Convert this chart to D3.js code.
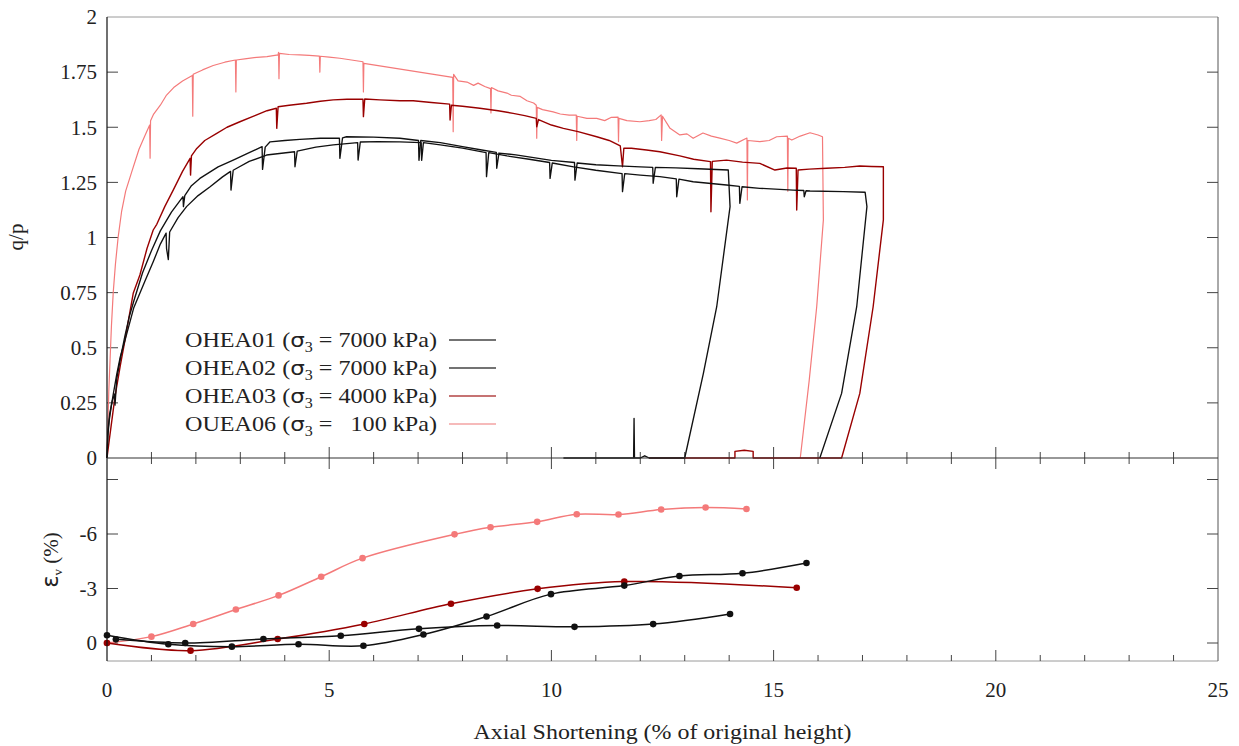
<!DOCTYPE html>
<html>
<head>
<meta charset="utf-8">
<script src="https://cdn.jsdelivr.net/npm/d3@7"></script>
<style>
  html, body { margin: 0; padding: 0; background: #fff; }
  svg { display: block; }
  text { font-family: "Liberation Serif", "DejaVu Serif", serif; fill: #222; }
</style>
</head>
<body>
<svg id="chart" width="1239" height="746"></svg>
<script>
// ---- axis ticks ----
const xTicks = [0, 5, 10, 15, 20, 25];
const qpTicks = [0, 0.25, 0.5, 0.75, 1, 1.25, 1.5, 1.75, 2];
const qpTickLabels = ["0", "0.25", "0.5", "0.75", "1", "1.25", "1.5", "1.75", "2"];
const evTicks = [0, -3, -6, -9];
const evTickLabels = ["0", "-3", "-6", ""];

// ---- series names ----
const seriesNames = ["OHEA01", "OHEA02", "OHEA03", "OUEA06"];
const seriesSigma = ["7000", "7000", "4000", "100"];

// ---- q/p vs axial shortening (%) ----
const ohea01QP = [
  [0,0],[0.02,0.12],[0.06,0.2],[0.12,0.26],[0.17,0.29],[0.18,0.24],[0.2,0.3],[0.22,0.36],[0.3,0.45],
  [0.4,0.55],[0.5,0.64],[0.6,0.71],[0.8,0.84],[1.0,0.94],[1.2,1.03],[1.45,1.115],[1.71,1.185],
  [1.72,1.14],[1.75,1.19],[1.9,1.235],[2.09,1.268],[2.5,1.32],[2.84,1.351],[3.2,1.385],
  [3.49,1.412],[3.5,1.309],[3.56,1.41],[3.67,1.434],[4.0,1.44],[4.34,1.445],[4.8,1.45],
  [5.23,1.45],[5.24,1.359],[5.3,1.452],[5.39,1.457],[6.0,1.455],[6.59,1.45],[7.01,1.44],
  [7.02,1.35],[7.06,1.44],[7.5,1.43],[8.0,1.412],[8.4,1.398],[8.76,1.386],[8.77,1.314],
  [8.82,1.383],[9.2,1.375],[9.6,1.362],[10.0,1.35],[10.52,1.34],[10.53,1.26],[10.58,1.338],
  [11.0,1.33],[11.5,1.325],[12.0,1.32],[12.28,1.318],[12.29,1.246],[12.34,1.318],[12.8,1.316],
  [13.3,1.312],[13.98,1.306],[14.02,1.14],[13.72,0.686],[13.42,0.384],[13.0,0],
  [12.2,0],[12.1,0.01],[12.0,0],[11.87,0],[11.86,0.18],[11.85,0],[10.27,0]
];
const ohea02QP = [
  [0,0],[0.02,0.1],[0.05,0.17],[0.1,0.24],[0.15,0.3],[0.22,0.38],[0.3,0.46],[0.4,0.53],
  [0.6,0.68],[0.85,0.8],[1.04,0.89],[1.2,0.97],[1.33,1.02],[1.34,0.95],[1.38,0.9],[1.41,1.025],
  [1.6,1.09],[1.79,1.14],[2.05,1.19],[2.32,1.23],[2.6,1.275],[2.78,1.3],[2.79,1.215],
  [2.84,1.305],[2.92,1.314],[3.2,1.345],[3.59,1.374],[4.22,1.389],[4.23,1.321],[4.28,1.392],
  [4.7,1.41],[5.09,1.42],[5.64,1.43],[5.65,1.351],[5.7,1.433],[6.1,1.435],[6.59,1.434],
  [7.07,1.43],[7.08,1.35],[7.12,1.43],[7.5,1.42],[8.0,1.405],[8.53,1.385],[8.54,1.276],
  [8.59,1.385],[9.0,1.37],[9.5,1.355],[9.96,1.34],[9.97,1.268],[10.02,1.338],[10.5,1.32],
  [11.0,1.305],[11.59,1.29],[11.6,1.208],[11.65,1.29],[12.0,1.283],[12.44,1.276],[12.81,1.266],
  [12.82,1.185],[12.87,1.265],[13.19,1.253],[13.94,1.238],[14.23,1.232],[14.24,1.155],
  [14.29,1.23],[14.69,1.223],[15.44,1.215],[15.68,1.213],[15.69,1.185],[15.73,1.212],
  [15.82,1.211],[16.57,1.208],[17.06,1.205],[17.1,1.14],[16.87,0.686],[16.53,0.293],[16.04,0]
];
const ohea03QP = [
  [0,0],[0.05,0.08],[0.18,0.278],[0.3,0.42],[0.405,0.535],[0.5,0.645],[0.59,0.747],[0.74,0.83],
  [0.9,0.95],[1.04,1.034],[1.12,1.06],[1.3,1.14],[1.49,1.215],[1.7,1.3],[1.87,1.359],
  [1.88,1.283],[1.9,1.37],[2.02,1.404],[2.2,1.44],[2.47,1.472],[2.7,1.5],[2.99,1.525],
  [3.3,1.55],[3.6,1.575],[3.81,1.586],[3.82,1.495],[3.85,1.593],[4.1,1.6],[4.49,1.609],
  [4.8,1.618],[5.09,1.624],[5.4,1.627],[5.76,1.627],[5.77,1.548],[5.8,1.628],[6.14,1.624],
  [6.59,1.62],[6.89,1.62],[7.3,1.612],[7.71,1.605],[7.72,1.533],[7.75,1.6],[8.0,1.595],
  [8.39,1.586],[8.8,1.575],[9.14,1.563],[9.4,1.553],[9.66,1.54],[9.67,1.502],[9.71,1.535],
  [10.0,1.51],[10.27,1.495],[10.6,1.48],[11.02,1.457],[11.3,1.44],[11.55,1.415],[11.6,1.321],
  [11.63,1.405],[11.8,1.405],[12.14,1.397],[12.44,1.389],[12.89,1.37],[13.2,1.355],
  [13.58,1.344],[13.59,1.117],[13.62,1.345],[13.94,1.351],[14.3,1.342],[14.69,1.336],
  [15.03,1.306],[15.3,1.315],[15.51,1.314],[15.52,1.125],[15.55,1.306],[15.8,1.31],
  [16.19,1.314],[16.6,1.318],[16.94,1.324],[17.2,1.322],[17.47,1.321],[17.47,1.08],
  [17.24,0.686],[16.94,0.293],[16.53,0],[14.54,0],[14.54,0.03],[14.34,0.035],[14.13,0.03],
  [14.13,0],[12.2,0]
];
const ouea06QP = [
  [0,0],[0.02,0.15],[0.04,0.3],[0.07,0.45],[0.1,0.6],[0.14,0.75],[0.19,0.88],[0.25,1.0],
  [0.33,1.12],[0.42,1.21],[0.56,1.3],[0.72,1.4],[0.85,1.46],[0.96,1.51],[0.97,1.36],
  [0.98,1.53],[1.05,1.56],[1.2,1.6],[1.34,1.646],[1.5,1.68],[1.7,1.71],[1.92,1.735],
  [1.93,1.55],[1.94,1.74],[2.15,1.76],[2.39,1.78],[2.65,1.795],[2.89,1.805],[2.9,1.66],
  [2.91,1.805],[3.1,1.81],[3.37,1.817],[3.6,1.82],[3.85,1.828],[3.86,1.84],[3.87,1.72],
  [3.88,1.835],[4.1,1.83],[4.34,1.828],[4.55,1.826],[4.78,1.823],[4.79,1.75],[4.8,1.822],
  [5.0,1.818],[5.24,1.813],[5.5,1.805],[5.76,1.797],[5.77,1.66],[5.78,1.79],
  [7.78,1.726],[7.79,1.48],[7.8,1.74],[7.9,1.71],[8.1,1.705],[8.25,1.69],[8.35,1.7],
  [8.5,1.685],[8.63,1.675],[8.64,1.565],[8.65,1.68],[8.8,1.665],[9.0,1.655],[9.1,1.645],
  [9.3,1.64],[9.45,1.62],[9.6,1.61],[9.66,1.6],[9.67,1.45],[9.68,1.59],[9.8,1.58],
  [10.04,1.57],[10.2,1.56],[10.4,1.555],[10.56,1.555],[10.57,1.44],[10.58,1.55],[10.8,1.54],
  [11.02,1.54],[11.2,1.53],[11.35,1.545],[11.5,1.546],[11.51,1.435],[11.52,1.54],[11.7,1.53],
  [11.99,1.525],[12.2,1.53],[12.35,1.535],[12.47,1.556],[12.48,1.44],[12.5,1.55],
  [12.67,1.495],[12.89,1.465],[13.05,1.47],[13.19,1.45],[13.41,1.474],[13.6,1.46],
  [13.79,1.451],[14.0,1.44],[14.17,1.428],[14.4,1.451],[14.41,1.17],[14.42,1.44],
  [14.69,1.435],[14.9,1.44],[15.07,1.457],[15.31,1.46],[15.32,1.21],[15.33,1.45],
  [15.41,1.442],[15.6,1.46],[15.82,1.475],[16.0,1.465],[16.1,1.457],[16.12,1.08],
  [15.97,0.686],[15.8,0.35],[15.6,0]
];

// ---- volumetric strain (%) vs axial shortening (%) ----
const ohea01Ev = [[0.2,-0.2],[1.76,0.0],[3.52,-0.22],[5.26,-0.4],[7.02,-0.78],[8.78,-0.96],[10.52,-0.89],[12.29,-1.04],[14.02,-1.6]];
const ohea02Ev = [[0,-0.43],[1.38,0.07],[2.81,0.2],[4.31,0.07],[5.77,0.15],[7.12,-0.47],[8.54,-1.46],[9.99,-2.69],[11.64,-3.16],[12.88,-3.69],[14.3,-3.84],[15.74,-4.4]];
const ohea03Ev = [[0,0],[1.88,0.42],[3.84,-0.22],[5.79,-1.05],[7.74,-2.16],[9.69,-2.98],[11.64,-3.38],[15.52,-3.04]];
const ouea06Ev = [[0,0],[1.0,-0.35],[1.94,-1.05],[2.9,-1.84],[3.86,-2.62],[4.82,-3.65],[5.75,-4.67],[7.82,-5.98],[8.63,-6.37],[9.68,-6.67],[10.57,-7.09],[11.51,-7.07],[12.47,-7.35],[13.47,-7.46],[14.39,-7.38]];

const colors = ["#111111", "#111111", "#990000", "#f47a7a"];
const legendColors = ["#444444", "#444444", "#b34444", "#f3a3a3"];
const topWidths = [1.35, 1.35, 1.4, 1.2];

// ---- layout ----
const svg = d3.select("#chart");
const L = 107, R = 1218, T = 17, M = 458, B = 661;

const x = d3.scaleLinear().domain([0, 25]).range([L, R]);
const yTop = d3.scaleLinear().domain([0, 2]).range([M, T]);
const yBot = d3.scaleLinear().domain([0, -6]).range([643, 534]);

// frame
svg.append("line").attr("x1", L).attr("x2", R).attr("y1", T).attr("y2", T).attr("stroke", "#9a9a9a").attr("stroke-width", 1);
svg.append("line").attr("x1", L).attr("x2", R).attr("y1", B).attr("y2", B).attr("stroke", "#9a9a9a").attr("stroke-width", 1);
svg.append("line").attr("x1", R).attr("x2", R).attr("y1", T).attr("y2", B).attr("stroke", "#555").attr("stroke-width", 1);

// inner ticks on both vertical sides
const gTicks = svg.append("g").attr("stroke", "#444").attr("stroke-width", 1);
qpTicks.forEach(v => {
  if (v === 0 || v === 2) return;
  gTicks.append("line").attr("x1", L).attr("x2", L + 11).attr("y1", yTop(v)).attr("y2", yTop(v));
  gTicks.append("line").attr("x1", R - 11).attr("x2", R).attr("y1", yTop(v)).attr("y2", yTop(v));
});
evTicks.forEach(v => {
  gTicks.append("line").attr("x1", L).attr("x2", L + 11).attr("y1", yBot(v)).attr("y2", yBot(v));
  gTicks.append("line").attr("x1", R - 11).attr("x2", R).attr("y1", yBot(v)).attr("y2", yBot(v));
});
// x ticks every 1 %, longer at multiples of 5
d3.range(1, 25).forEach(v => {
  const major = v % 5 === 0;
  const len = major ? 11 : 6;
  gTicks.append("line").attr("x1", x(v)).attr("x2", x(v)).attr("y1", M - len).attr("y2", M + len);
  gTicks.append("line").attr("x1", x(v)).attr("x2", x(v)).attr("y1", B - len).attr("y2", B);
});

// tick labels
svg.append("g").selectAll("text").data(qpTicks).join("text")
  .attr("x", 97).attr("y", d => yTop(d)).attr("dy", "0.35em")
  .attr("text-anchor", "end").attr("font-size", 21)
  .text((d, i) => qpTickLabels[i]);
svg.append("g").selectAll("text").data(evTicks.slice(0, 3)).join("text")
  .attr("x", 97).attr("y", d => yBot(d)).attr("dy", "0.35em")
  .attr("text-anchor", "end").attr("font-size", 21)
  .text((d, i) => evTickLabels[i]);
svg.append("g").selectAll("text").data(xTicks).join("text")
  .attr("x", d => x(d)).attr("y", 697)
  .attr("text-anchor", "middle").attr("font-size", 21)
  .text(d => d);

// axis titles
svg.append("text").attr("x", x(12.5)).attr("y", 739).attr("text-anchor", "middle")
  .attr("font-size", 21).attr("textLength", 378).attr("lengthAdjust", "spacingAndGlyphs")
  .text("Axial Shortening (% of original height)");
svg.append("text").attr("transform", "translate(23,237) rotate(-90)").attr("text-anchor", "middle")
  .attr("font-size", 21).text("q/p");
const evLabel = svg.append("text").attr("transform", "translate(58,560) rotate(-90)").attr("text-anchor", "middle");
evLabel.append("tspan").attr("font-family", "DejaVu Sans").attr("font-size", 23).text("ε");
evLabel.append("tspan").attr("font-size", 13).attr("dy", 4).text("v");
evLabel.append("tspan").attr("font-size", 21).attr("dy", -4).text(" (%)");

// data lines
const topLine = d3.line().x(d => x(d[0])).y(d => yTop(d[1]));
const botLine = d3.line().x(d => x(d[0])).y(d => yBot(d[1])).curve(d3.curveCatmullRom.alpha(0.5));

const topSeries = [ohea01QP, ohea02QP, ohea03QP, ouea06QP];
const botSeries = [ohea01Ev, ohea02Ev, ohea03Ev, ouea06Ev];

const gTop = svg.append("g");
[3, 2, 1, 0].forEach(i => {
  gTop.append("path").attr("d", topLine(topSeries[i])).attr("fill", "none")
    .attr("stroke", colors[i]).attr("stroke-width", topWidths[i]).attr("stroke-linejoin", "round");
});

const gBot = svg.append("g");
[3, 2, 1, 0].forEach(i => {
  gBot.append("path").attr("d", botLine(botSeries[i])).attr("fill", "none")
    .attr("stroke", colors[i]).attr("stroke-width", 1.5);
  gBot.append("g").selectAll("circle").data(botSeries[i]).join("circle")
    .attr("cx", d => x(d[0])).attr("cy", d => yBot(d[1])).attr("r", 3.3)
    .attr("fill", colors[i]);
});

// axes drawn over the data
svg.append("line").attr("x1", L).attr("x2", L).attr("y1", T).attr("y2", B).attr("stroke", "#111").attr("stroke-width", 1.2);
svg.append("line").attr("x1", L).attr("x2", R).attr("y1", M).attr("y2", M).attr("stroke", "#333").attr("stroke-width", 1.1);

// legend (text widened to the roman face's proportions)
const legend = svg.append("g");
seriesNames.forEach((name, i) => {
  const yy = 340 + i * 28;
  const g = legend.append("g").attr("transform", `translate(437,${yy}) scale(1.15,1)`);
  const t = g.append("text").attr("x", 0).attr("y", 0).attr("dy", "0.35em")
    .attr("text-anchor", "end").attr("font-size", 21).attr("xml:space", "preserve");
  t.append("tspan").text(name + " (");
  t.append("tspan").attr("font-family", "DejaVu Sans").attr("font-size", 20).text("σ");
  t.append("tspan").attr("font-size", 14).attr("dy", 5).text("3");
  const pad = seriesSigma[i].length < 4 ? "\u2007" : "";
  t.append("tspan").attr("dy", -5).text(" = " + pad + seriesSigma[i] + " kPa)");
  legend.append("line").attr("x1", 449).attr("x2", 496).attr("y1", yy).attr("y2", yy)
    .attr("stroke", legendColors[i]).attr("stroke-width", 1.6);
});
</script>
</body>
</html>
